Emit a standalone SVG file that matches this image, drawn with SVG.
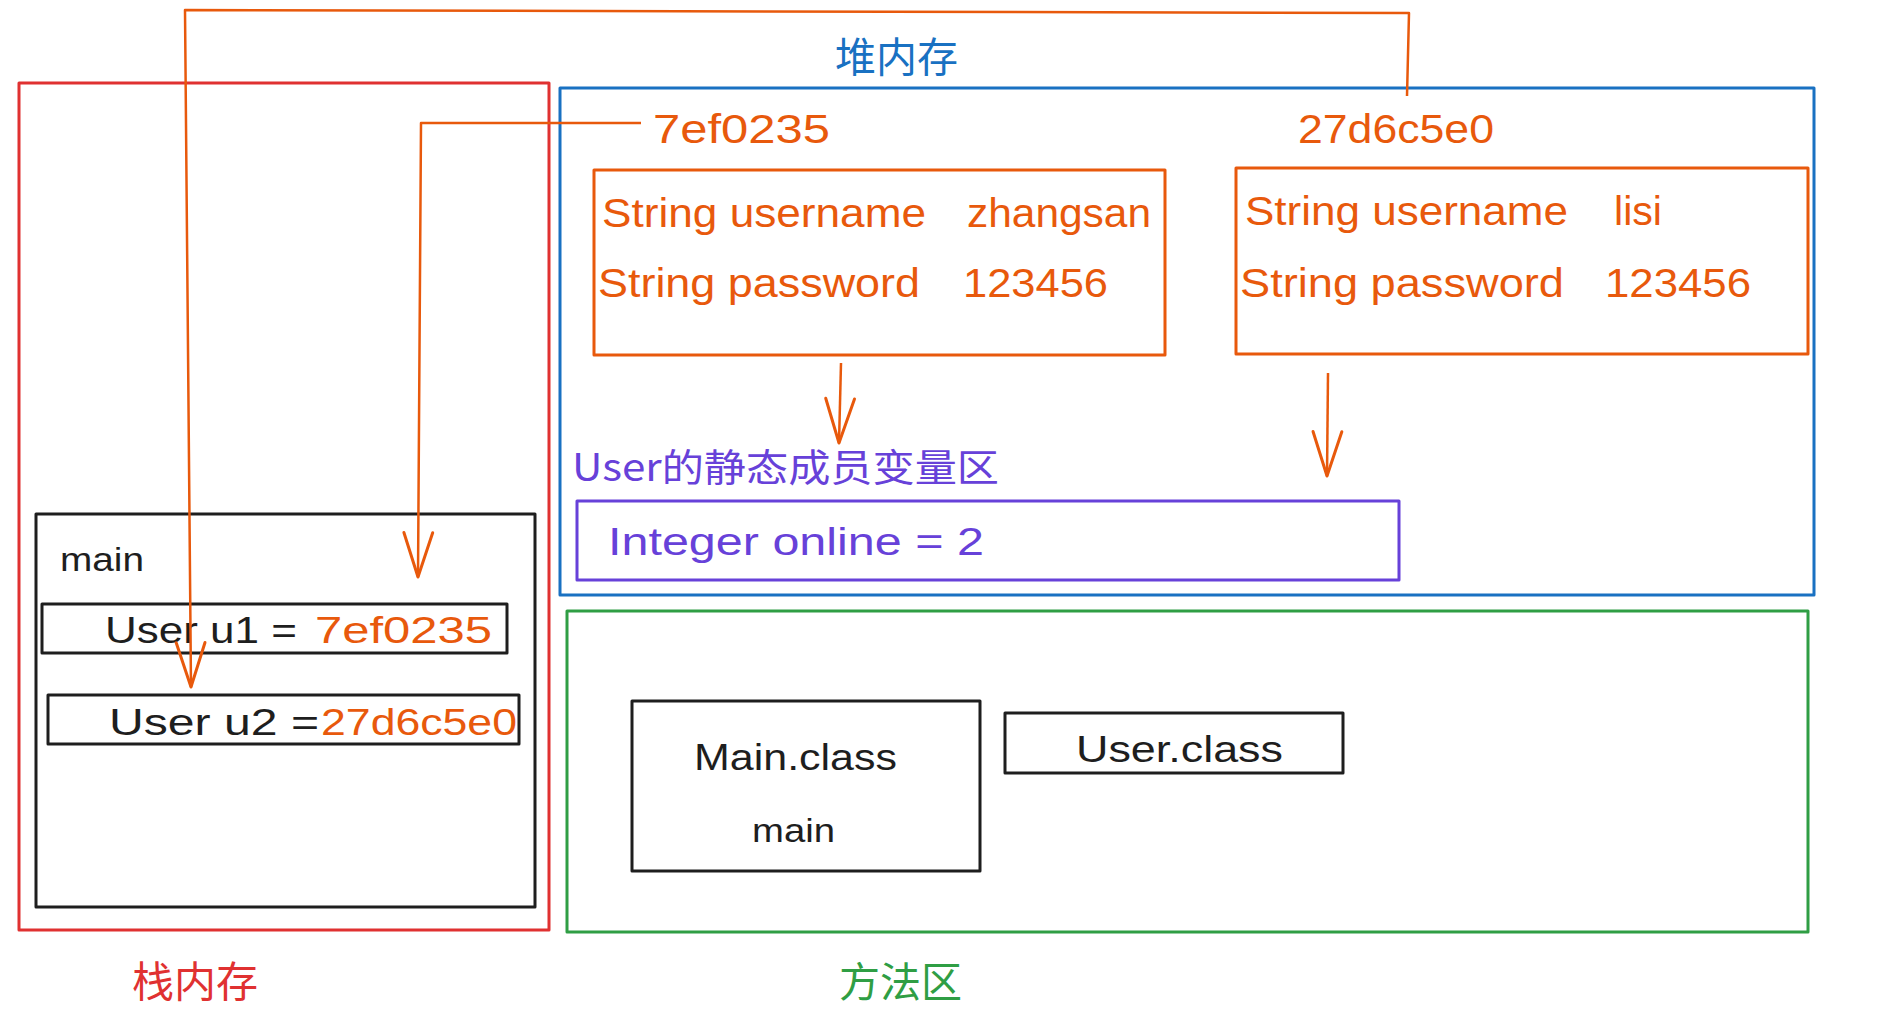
<svg xmlns="http://www.w3.org/2000/svg" width="1879" height="1026" viewBox="0 0 1879 1026">
<style>
  .box{fill:none;stroke-width:3;stroke-linejoin:round}
  .t{font-family:"Liberation Sans","DejaVu Sans",sans-serif;}
  .cjk{font-family:"Noto Sans CJK SC","Noto Sans",sans-serif;}
  .or{fill:#e8590c}
  .bk{fill:#1e1e1e}
  .pu{fill:#6741d9}
  .conn{fill:none;stroke:#e8590c;stroke-width:2.5;stroke-linejoin:round}
</style>
<defs>
  <marker id="arr" markerUnits="userSpaceOnUse" orient="auto" refX="0" refY="0" markerWidth="60" markerHeight="60" viewBox="-45 -25 50 50" overflow="visible">
    <path d="M-37,-12 L0,0 L-37,12" fill="none" stroke="#e8590c" stroke-width="2.5" stroke-linecap="round" stroke-linejoin="round"/>
  </marker>
</defs>
<rect width="1879" height="1026" fill="#ffffff"/>

<g id="stack">
  <rect class="box" x="19" y="83" width="530" height="847" stroke="#e03131" stroke-width="2.5"/>
  <text class="cjk" x="132" y="997" font-size="42" fill="#e03131">栈内存</text>
</g>
<g id="heap">
  <rect class="box" x="560" y="88" width="1254" height="507" stroke="#1971c2"/>
  <text class="cjk" x="835" y="72" font-size="41" fill="#1971c2">堆内存</text>
</g>
<g id="method-area">
  <rect class="box" x="567" y="611" width="1241" height="321" stroke="#2f9e44"/>
  <text class="cjk" x="839" y="997" font-size="41" fill="#2f9e44">方法区</text>
</g>
<g id="main-frame">
  <rect class="box" x="36" y="514" width="499" height="393" stroke="#1e1e1e"/>
  <text class="t bk" x="60" y="571" font-size="34" textLength="84" lengthAdjust="spacingAndGlyphs">main</text>
</g>
<g id="u1">
  <rect class="box" x="42" y="604" width="465" height="49" stroke="#1e1e1e"/>
  <text class="t bk" x="105" y="643" font-size="37" textLength="192" lengthAdjust="spacingAndGlyphs">User u1 =</text>
  <text class="t or" x="315" y="643" font-size="37" textLength="177" lengthAdjust="spacingAndGlyphs">7ef0235</text>
</g>
<g id="u2">
  <rect class="box" x="48" y="695" width="471" height="49" stroke="#1e1e1e"/>
  <text class="t bk" x="109" y="735" font-size="37" textLength="210" lengthAdjust="spacingAndGlyphs">User u2 =</text>
  <text class="t or" x="321" y="735" font-size="37" textLength="196" lengthAdjust="spacingAndGlyphs">27d6c5e0</text>
</g>
<g id="addr1">
  <text class="t or" x="653" y="143" font-size="40" textLength="177" lengthAdjust="spacingAndGlyphs">7ef0235</text>
</g>
<g id="addr2">
  <text class="t or" x="1298" y="143" font-size="40" textLength="196" lengthAdjust="spacingAndGlyphs">27d6c5e0</text>
</g>
<g id="obj1">
  <rect class="box" x="594" y="170" width="571" height="185" stroke="#e8590c"/>
  <text class="t or" x="602" y="227" font-size="40" textLength="324" lengthAdjust="spacingAndGlyphs">String username</text>
  <text class="t or" x="967" y="227" font-size="40" textLength="184" lengthAdjust="spacingAndGlyphs">zhangsan</text>
  <text class="t or" x="598" y="297" font-size="40" textLength="322" lengthAdjust="spacingAndGlyphs">String password</text>
  <text class="t or" x="963" y="297" font-size="40" textLength="145" lengthAdjust="spacingAndGlyphs">123456</text>
</g>
<g id="obj2">
  <rect class="box" x="1236" y="168" width="572" height="186" stroke="#e8590c"/>
  <text class="t or" x="1245" y="225" font-size="40" textLength="323" lengthAdjust="spacingAndGlyphs">String username</text>
  <text class="t or" x="1614" y="225" font-size="40" textLength="48" lengthAdjust="spacingAndGlyphs">lisi</text>
  <text class="t or" x="1240" y="297" font-size="40" textLength="324" lengthAdjust="spacingAndGlyphs">String password</text>
  <text class="t or" x="1605" y="297" font-size="40" textLength="146" lengthAdjust="spacingAndGlyphs">123456</text>
</g>
<g id="static-area">
  <text class="cjk pu" x="572" y="481" font-size="38" textLength="427" lengthAdjust="spacingAndGlyphs">User的静态成员变量区</text>
  <rect class="box" x="577" y="501" width="822" height="79" stroke="#6741d9"/>
  <text class="t pu" x="608" y="555" font-size="38" textLength="376" lengthAdjust="spacingAndGlyphs">Integer online = 2</text>
</g>
<g id="main-class">
  <rect class="box" x="632" y="701" width="348" height="170" stroke="#1e1e1e"/>
  <text class="t bk" x="694" y="770" font-size="37" textLength="203" lengthAdjust="spacingAndGlyphs">Main.class</text>
  <text class="t bk" x="752" y="842" font-size="34" textLength="83" lengthAdjust="spacingAndGlyphs">main</text>
</g>
<g id="user-class">
  <rect class="box" x="1005" y="713" width="338" height="60" stroke="#1e1e1e"/>
  <text class="t bk" x="1076" y="762" font-size="37" textLength="207" lengthAdjust="spacingAndGlyphs">User.class</text>
</g>

<g id="connectors">
  <path class="conn" d="M1407,96 L1409,13 L185,10 L191,687" marker-end="url(#arr)"/>
  <path class="conn" d="M641,123 L421,123 L418,577" marker-end="url(#arr)"/>
  <path class="conn" d="M841,363 L839,443" marker-end="url(#arr)"/>
  <path class="conn" d="M1328,373 L1327,476" marker-end="url(#arr)"/>
</g>
</svg>
